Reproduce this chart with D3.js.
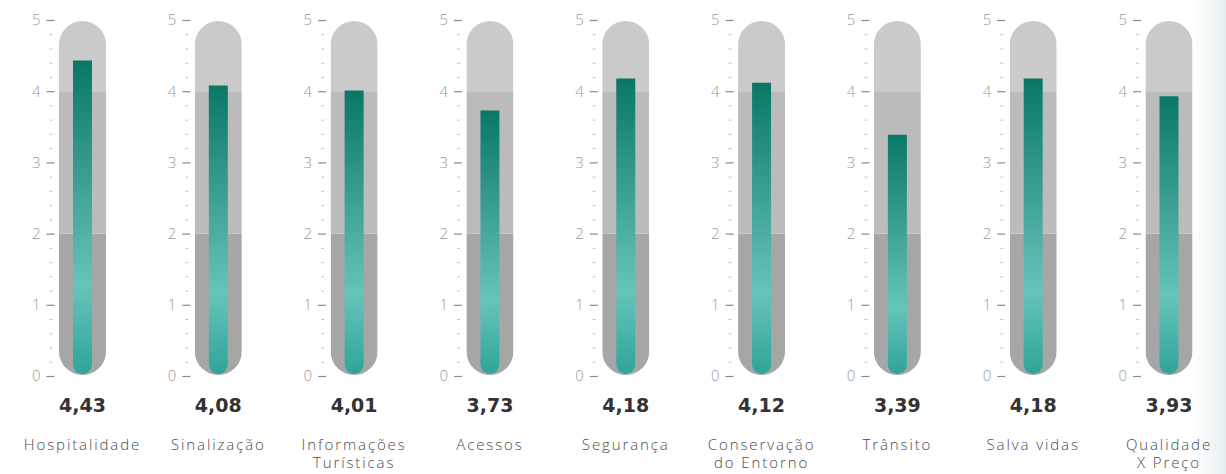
<!DOCTYPE html>
<html>
<head>
<meta charset="utf-8">
<script src="https://cdn.jsdelivr.net/npm/d3@7"></script>
<style>
  body { margin: 0; background: #fff; }
  .tick text { font-family: "Open Sans", sans-serif; font-weight: 300; }
</style>
</head>
<body>
<div id="chart"></div>
<script>
let width = 1226,
    height = 474;

// data
const categories = ["Hospitalidade", "Sinalização", "Informações\nTurísticas", "Acessos", "Segurança",
                    "Conservação\ndo Entorno", "Trânsito", "Salva vidas", "Qualidade\nX Preço"];
const values = [4.43, 4.08, 4.01, 3.73, 4.18, 4.12, 3.39, 4.18, 3.93];
const majorTicks = [0, 1, 2, 3, 4, 5];
const minorTicks = d3.range(0, 5.01, 0.2);
const bands = [[0, 2], [2, 4], [4, 5]];
const bandColors = ["#a6a6a6", "#bcbbbc", "#cacaca"];

const svg = d3.select("#chart")
  .append("svg")
  .attr("width", width)
  .attr("height", height);

const defs = svg.append("defs");
const grad = defs.append("linearGradient")
  .attr("id", "fill")
  .attr("x1", 0).attr("y1", 0).attr("x2", 0).attr("y2", 1);
grad.append("stop").attr("offset", "0%").attr("stop-color", "#0a7766");
grad.append("stop").attr("offset", "72%").attr("stop-color", "#66c4ba");
grad.append("stop").attr("offset", "100%").attr("stop-color", "#2fa497");

const edge = defs.append("linearGradient").attr("id", "edge");
edge.append("stop").attr("offset", "0%").attr("stop-color", "#fff");
edge.append("stop").attr("offset", "100%").attr("stop-color", "#e6efef");
svg.append("rect").attr("x", 1192).attr("y", 0).attr("width", 34).attr("height", height)
  .attr("fill", "url(#edge)");

let x = d3.scalePoint()
  .domain(categories)
  .range([82.5, 1169]);

let y = d3.scaleLinear()
  .domain([0, 5])
  .range([376, 20]);

const pillW = 47, barW = 19;
const fmt = d3.formatLocale({ decimal: ",", thousands: ".", grouping: [3], currency: ["", ""] }).format(".2f");

categories.forEach((c, i) => {
  const cx = x(c);
  const g = svg.append("g");

  // clip the band colours to a pill shape
  const clipId = "pill" + i;
  defs.append("clipPath").attr("id", clipId)
    .append("rect")
    .attr("x", cx - pillW / 2)
    .attr("y", y(5) + 1)
    .attr("width", pillW)
    .attr("height", y(0) - y(5) - 2)
    .attr("rx", pillW / 2);

  g.append("g").attr("clip-path", `url(#${clipId})`)
    .selectAll("rect")
    .data(bands)
    .join("rect")
    .attr("x", cx - pillW / 2)
    .attr("y", d => y(d[1]) - (d[1] === 5 ? 2 : 0))
    .attr("width", pillW)
    .attr("height", d => y(d[0]) - y(d[1]) + (d[1] === 5 ? 2 : 0) + (d[0] === 0 ? 2 : 0))
    .attr("fill", (d, j) => bandColors[j]);

  // value bar with rounded bottom
  const top = y(values[i]), bot = y(0) - 2, r = barW / 2, l = cx - r;
  g.append("path")
    .attr("d", `M${l},${top}H${l + barW}V${bot - r}A${r},${r} 0 0 1 ${l},${bot - r}Z`)
    .attr("fill", "url(#fill)");

  // axis: major ticks with labels
  g.append("g")
    .attr("transform", `translate(${cx - 28},0)`)
    .call(d3.axisLeft(y).tickValues(majorTicks).tickSize(8).tickPadding(6).tickFormat(d3.format("d")))
    .call(a => a.select(".domain").remove())
    .call(a => a.selectAll("line").attr("stroke", "#8a8a8a").attr("stroke-width", 1.2))
    .call(a => a.selectAll("text").attr("fill", "#9a9a9a").attr("font-size", 15));

  // minor ticks
  g.append("g")
    .attr("transform", `translate(${cx - 30},0)`)
    .call(d3.axisLeft(y).tickValues(minorTicks.filter(v => Math.abs(v - Math.round(v)) > 0.01)).tickSize(3).tickFormat(""))
    .call(a => a.select(".domain").remove())
    .call(a => a.selectAll("line").attr("stroke", "#c4c4c4"));

  // value label
  g.append("text")
    .attr("x", cx)
    .attr("y", 412)
    .attr("text-anchor", "middle")
    .attr("font-family", "DejaVu Sans, sans-serif")
    .attr("font-weight", "bold")
    .attr("font-size", 19)
    .attr("fill", "#333")
    .text(fmt(values[i]));

  // category label
  const t = g.append("text")
    .attr("text-anchor", "middle")
    .attr("font-family", "Open Sans, sans-serif")
    .attr("font-weight", 300)
    .attr("font-size", 15)
    .attr("letter-spacing", 1.9)
    .attr("fill", "#4a4a4a");
  c.split("\n").forEach((line, k) => {
    t.append("tspan").attr("x", cx).attr("y", 450 + k * 18).text(line);
  });
});
</script>
</body>
</html>
